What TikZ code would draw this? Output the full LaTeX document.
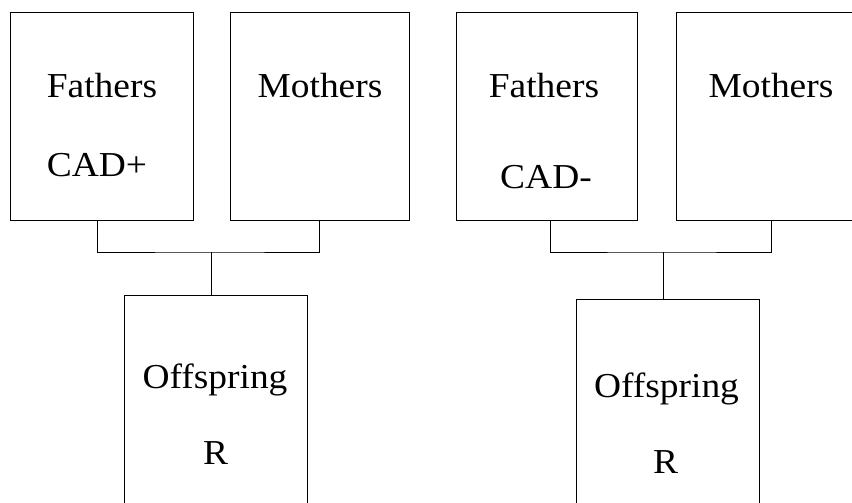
\documentclass[tikz,border=0pt]{standalone}
\usepackage{fontspec}
\setmainfont{Liberation Serif}
\begin{document}
\begin{tikzpicture}[x=1pt,y=-1pt,
  box/.style={draw=black,line width=0.9pt,minimum width=#1,inner sep=0pt},
  lbl/.style={anchor=base,inner sep=0pt,font=\fontsize{35}{40}\selectfont},
  conn/.style={draw=black,line width=0.8pt}]
\useasboundingbox (0,0) rectangle (852,503);
\clip (0,0) rectangle (852,503);
% parent boxes
\node[box=183pt,minimum height=208pt] (lf) at (101.5,116) {};
\node[box=179pt,minimum height=208pt] (lm) at (319.5,116) {};
\node[box=181pt,minimum height=208pt] (rf) at (546.5,116) {};
\node[box=190pt,minimum height=208pt] (rm) at (771,116) {};
% offspring boxes (bottom beyond frame)
\node[box=183pt,minimum height=230pt] (lo) at (215.5,410) {};
\node[box=183pt,minimum height=226pt] (ro) at (667.5,412) {};
% labels
\node[lbl] (lft) at (102,97) {\scalebox{1.07}[1]{Fathers}};
\node[lbl] (lfc) at (97,176) {\scalebox{1.07}[1]{CAD+}};
\node[lbl] (lmt) at (320,97) {\scalebox{1.07}[1]{Mothers}};
\node[lbl] (rft) at (544,97) {\scalebox{1.07}[1]{Fathers}};
\node[lbl] (rfc) at (546,188) {\scalebox{1.07}[1]{CAD-}};
\node[lbl] (rmt) at (771,97) {\scalebox{1.07}[1]{Mothers}};
\node[lbl] (lot) at (215,388) {\scalebox{1.07}[1]{Offspring}};
\node[lbl] (lor) at (215.5,464) {\scalebox{1.07}[1]{R}};
\node[lbl] (rot) at (666.5,397) {\scalebox{1.07}[1]{Offspring}};
\node[lbl] (ror) at (665.5,473) {\scalebox{1.07}[1]{R}};
% connectors
\coordinate (jl) at (211,252);
\coordinate (jr) at (663,252);
\draw[conn] ([xshift=-4.5pt]lf.south) |- (jl) -| ([xshift=-0.5pt]lm.south);
\draw[conn] (jl) -- (jl |- lo.north);
\draw[conn] ([xshift=3.5pt]rf.south) |- (jr) -| (rm.south);
\draw[conn] (jr) -- (jr |- ro.north);
\end{tikzpicture}
\end{document}
